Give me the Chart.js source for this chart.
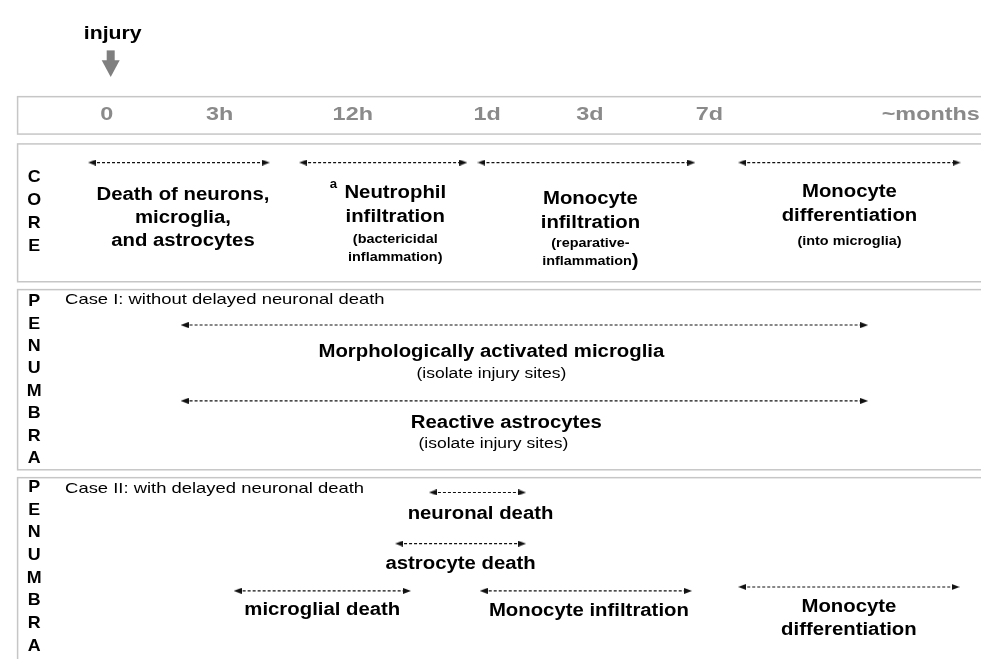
<!DOCTYPE html>
<html>
<head>
<meta charset="utf-8">
<script src="https://cdn.jsdelivr.net/npm/chart.js@4.4.1/dist/chart.umd.min.js"></script>
<style>
  html, body { margin: 0; padding: 0; background: #fff; }
</style>
</head>
<body>
<canvas id="timeline" width="981" height="659"></canvas>
<script>
// time strip (schematic, not to scale)
const timeLabels = ['0', '3h', '12h', '1d', '3d', '7d', '~months'];
const timeTicks = [0, 1, 2.18, 3.37, 4.28, 5.34, 7.3];

// core
const coreEvents = ['Death of neurons,\nmicroglia,\nand astrocytes', 'Neutrophil\ninfiltration', 'Monocyte\ninfiltration', 'Monocyte\ndifferentiation'];
const coreNotes = ['', '(bactericidal\ninflammation)', '(reparative-\ninflammation)', '(into microglia)'];
const coreStart = [-0.13, 1.74, 3.32, 5.63];
const coreEnd = [1.41, 3.16, 5.18, 7.53];

// penumbra, case I
const caseOneEvents = ['Morphologically activated microglia', 'Reactive astrocytes'];
const caseOneNotes = ['(isolate injury sites)', '(isolate injury sites)'];
const caseOneStart = [0.69, 0.69];
const caseOneEnd = [6.71, 6.71];

// penumbra, case II
const caseTwoEvents = ['neuronal death', 'astrocyte death', 'microglial death', 'Monocyte infiltration', 'Monocyte\ndifferentiation'];
const caseTwoNotes = ['', '', '', '', ''];
const caseTwoStart = [2.89, 2.59, 1.16, 3.34, 5.63];
const caseTwoEnd = [3.68, 3.68, 2.66, 5.15, 7.52];

// layout (y in canvas rows, dx in px from the arrow middle)
const FONT = "'Liberation Sans', Arial, sans-serif";
const STRETCH = 1.13;
const panels = [
  {top: 93, bottom: 131},
  {top: 141, bottom: 281, letters: 'CORE', first: 175, gap: 23.5},
  {top: 289, bottom: 472, letters: 'PENUMBRA', first: 301, gap: 22.8, caption: 'Case I: without delayed neuronal death', captionY: 300},
  {top: 480, bottom: 720, letters: 'PENUMBRA', first: 490, gap: 23, caption: 'Case II: with delayed neuronal death', captionY: 491}
];
const coreRows = [
  {arrow: 160, title: 193, gap: 23.5, dx: 4},
  {arrow: 160, title: 191, gap: 24, note: 238, noteGap: 19, dx: 12, mark: 'a'},
  {arrow: 160, title: 197, gap: 24.5, note: 242, noteGap: 19, dx: 4, bigParen: true},
  {arrow: 160, title: 190, gap: 24.5, note: 240, noteGap: 20}
];
const caseOneRows = [
  {arrow: 325, title: 352, note: 375, dx: -33},
  {arrow: 402, title: 425, note: 446, dx: -18, noteDx: -31}
];
const caseTwoRows = [
  {arrow: 495, title: 517, dx: 3},
  {arrow: 547, title: 568},
  {arrow: 595, title: 614},
  {arrow: 595, title: 615, dx: 3},
  {arrow: 591, title: 611, gap: 24}
];

// small arrow head used as point style
const head = document.createElement('canvas');
head.width = 8;
head.height = 6;
(function () {
  const c = head.getContext('2d');
  c.fillStyle = '#111';
  c.beginPath();
  c.moveTo(8, 3);
  c.lineTo(0, 0);
  c.lineTo(0, 6);
  c.closePath();
  c.fill();
})();

function arrowSets(start, end, rows) {
  return start.map((s, i) => ({
    data: [{x: s, y: rows[i].arrow}, {x: end[i], y: rows[i].arrow}],
    showLine: true,
    borderColor: '#111',
    borderWidth: 1.1,
    borderDash: [3, 2],
    pointStyle: head,
    pointRotation: [180, 0],
    pointRadius: 4
  }));
}

function say(ctx, text, x, y, size, weight, align, sx) {
  ctx.save();
  ctx.font = weight + ' ' + size + 'px ' + FONT;
  ctx.textAlign = align || 'center';
  ctx.textBaseline = 'middle';
  ctx.translate(x, y);
  ctx.scale(sx || STRETCH, 1);
  ctx.fillText(text, 0, 0);
  ctx.restore();
}

function textWidth(ctx, text, size, weight, sx) {
  ctx.save();
  ctx.font = weight + ' ' + size + 'px ' + FONT;
  const w = ctx.measureText(text).width * (sx || STRETCH);
  ctx.restore();
  return w;
}

function drawGroup(ctx, xs, ys, events, notes, start, end, rows, note) {
  events.forEach((ev, i) => {
    const r = rows[i];
    const mid = xs.getPixelForValue((start[i] + end[i]) / 2);
    const cx = mid + (r.dx || 0);
    const lines = ev.split('\n');
    lines.forEach((t, k) => {
      say(ctx, t, cx, ys.getPixelForValue(r.title + k * (r.gap || 24)), 18, 'bold');
    });
    if (r.mark) {
      const w = textWidth(ctx, lines[0], 18, 'bold');
      say(ctx, r.mark, cx - w / 2 - 11, ys.getPixelForValue(r.title - 9), 12, 'bold', 'center', 1.1);
    }
    if (!notes[i]) return;
    const nx = mid + (r.noteDx !== undefined ? r.noteDx : (r.dx || 0));
    notes[i].split('\n').forEach((t, k) => {
      const y = ys.getPixelForValue(r.note + k * (r.noteGap || 20));
      if (r.bigParen && t.endsWith(')')) {
        const body = t.slice(0, -1);
        const w1 = textWidth(ctx, body, note.size, note.weight, note.sx);
        const w2 = textWidth(ctx, ')', 18, 'bold');
        const x0 = nx - (w1 + w2) / 2;
        say(ctx, body, x0, y, note.size, note.weight, 'left', note.sx);
        say(ctx, ')', x0 + w1, y - 1, 18, 'bold', 'left');
      } else {
        say(ctx, t, nx, y, note.size, note.weight, 'center', note.sx);
      }
    });
  });
}

const timelinePlugin = {
  id: 'timelineText',
  beforeDatasetsDraw(chart) {
    const ctx = chart.ctx;
    const xs = chart.scales.x;
    const ys = chart.scales.y;
    const left = chart.chartArea.left;

    // panel frames
    ctx.save();
    ctx.strokeStyle = '#c6c6c6';
    ctx.lineWidth = 1.5;
    panels.forEach(p => {
      ctx.strokeRect(left + 12.5, ys.getPixelForValue(p.top), 1000, ys.getPixelForValue(p.bottom) - ys.getPixelForValue(p.top));
    });
    ctx.restore();

    // time labels
    ctx.save();
    ctx.fillStyle = '#8a8a8a';
    timeLabels.forEach((t, i) => {
      say(ctx, t, xs.getPixelForValue(timeTicks[i]), ys.getPixelForValue(112), 18, 'bold', 'center', 1.3);
    });
    ctx.restore();

    // injury marker
    const x0 = xs.getPixelForValue(0) + 4;
    ctx.save();
    ctx.fillStyle = '#000';
    say(ctx, 'injury', x0 + 2, ys.getPixelForValue(29), 18, 'bold', 'center', 1.18);
    ctx.fillStyle = '#7f7f7f';
    ctx.fillRect(x0 - 4, ys.getPixelForValue(46), 8, ys.getPixelForValue(58) - ys.getPixelForValue(46));
    ctx.beginPath();
    ctx.moveTo(x0 - 9, ys.getPixelForValue(56));
    ctx.lineTo(x0 + 9, ys.getPixelForValue(56));
    ctx.lineTo(x0, ys.getPixelForValue(73));
    ctx.closePath();
    ctx.fill();
    ctx.restore();

    // side letters and captions
    ctx.save();
    ctx.fillStyle = '#000';
    panels.forEach(p => {
      if (p.letters) {
        p.letters.split('').forEach((c, k) => {
          say(ctx, c, left + 29, ys.getPixelForValue(p.first + k * p.gap), 17, 'bold', 'center', 1.05);
        });
      }
      if (p.caption) {
        say(ctx, p.caption, left + 60, ys.getPixelForValue(p.captionY), 14.5, 'normal', 'left', 1.27);
      }
    });
    ctx.restore();
  },
  afterDatasetsDraw(chart) {
    const ctx = chart.ctx;
    const xs = chart.scales.x;
    const ys = chart.scales.y;
    ctx.save();
    ctx.fillStyle = '#000';
    drawGroup(ctx, xs, ys, coreEvents, coreNotes, coreStart, coreEnd, coreRows, {size: 12, weight: 'bold', sx: 1.2});
    drawGroup(ctx, xs, ys, caseOneEvents, caseOneNotes, caseOneStart, caseOneEnd, caseOneRows, {size: 14, weight: 'normal', sx: 1.25});
    drawGroup(ctx, xs, ys, caseTwoEvents, caseTwoNotes, caseTwoStart, caseTwoEnd, caseTwoRows, {size: 14, weight: 'normal', sx: 1.25});
    ctx.restore();
  }
};

new Chart(document.getElementById('timeline'), {
  type: 'scatter',
  data: {
    datasets: [
      ...arrowSets(coreStart, coreEnd, coreRows),
      ...arrowSets(caseOneStart, caseOneEnd, caseOneRows),
      ...arrowSets(caseTwoStart, caseTwoEnd, caseTwoRows)
    ]
  },
  options: {
    responsive: false,
    animation: false,
    devicePixelRatio: 1,
    layout: {padding: 0},
    events: [],
    scales: {
      x: {type: 'linear', min: -0.9, max: 7.7, display: false},
      y: {type: 'linear', min: 0, max: 659, reverse: true, display: false}
    },
    plugins: {
      legend: {display: false},
      tooltip: {enabled: false}
    }
  },
  plugins: [timelinePlugin]
});
</script>
</body>
</html>
